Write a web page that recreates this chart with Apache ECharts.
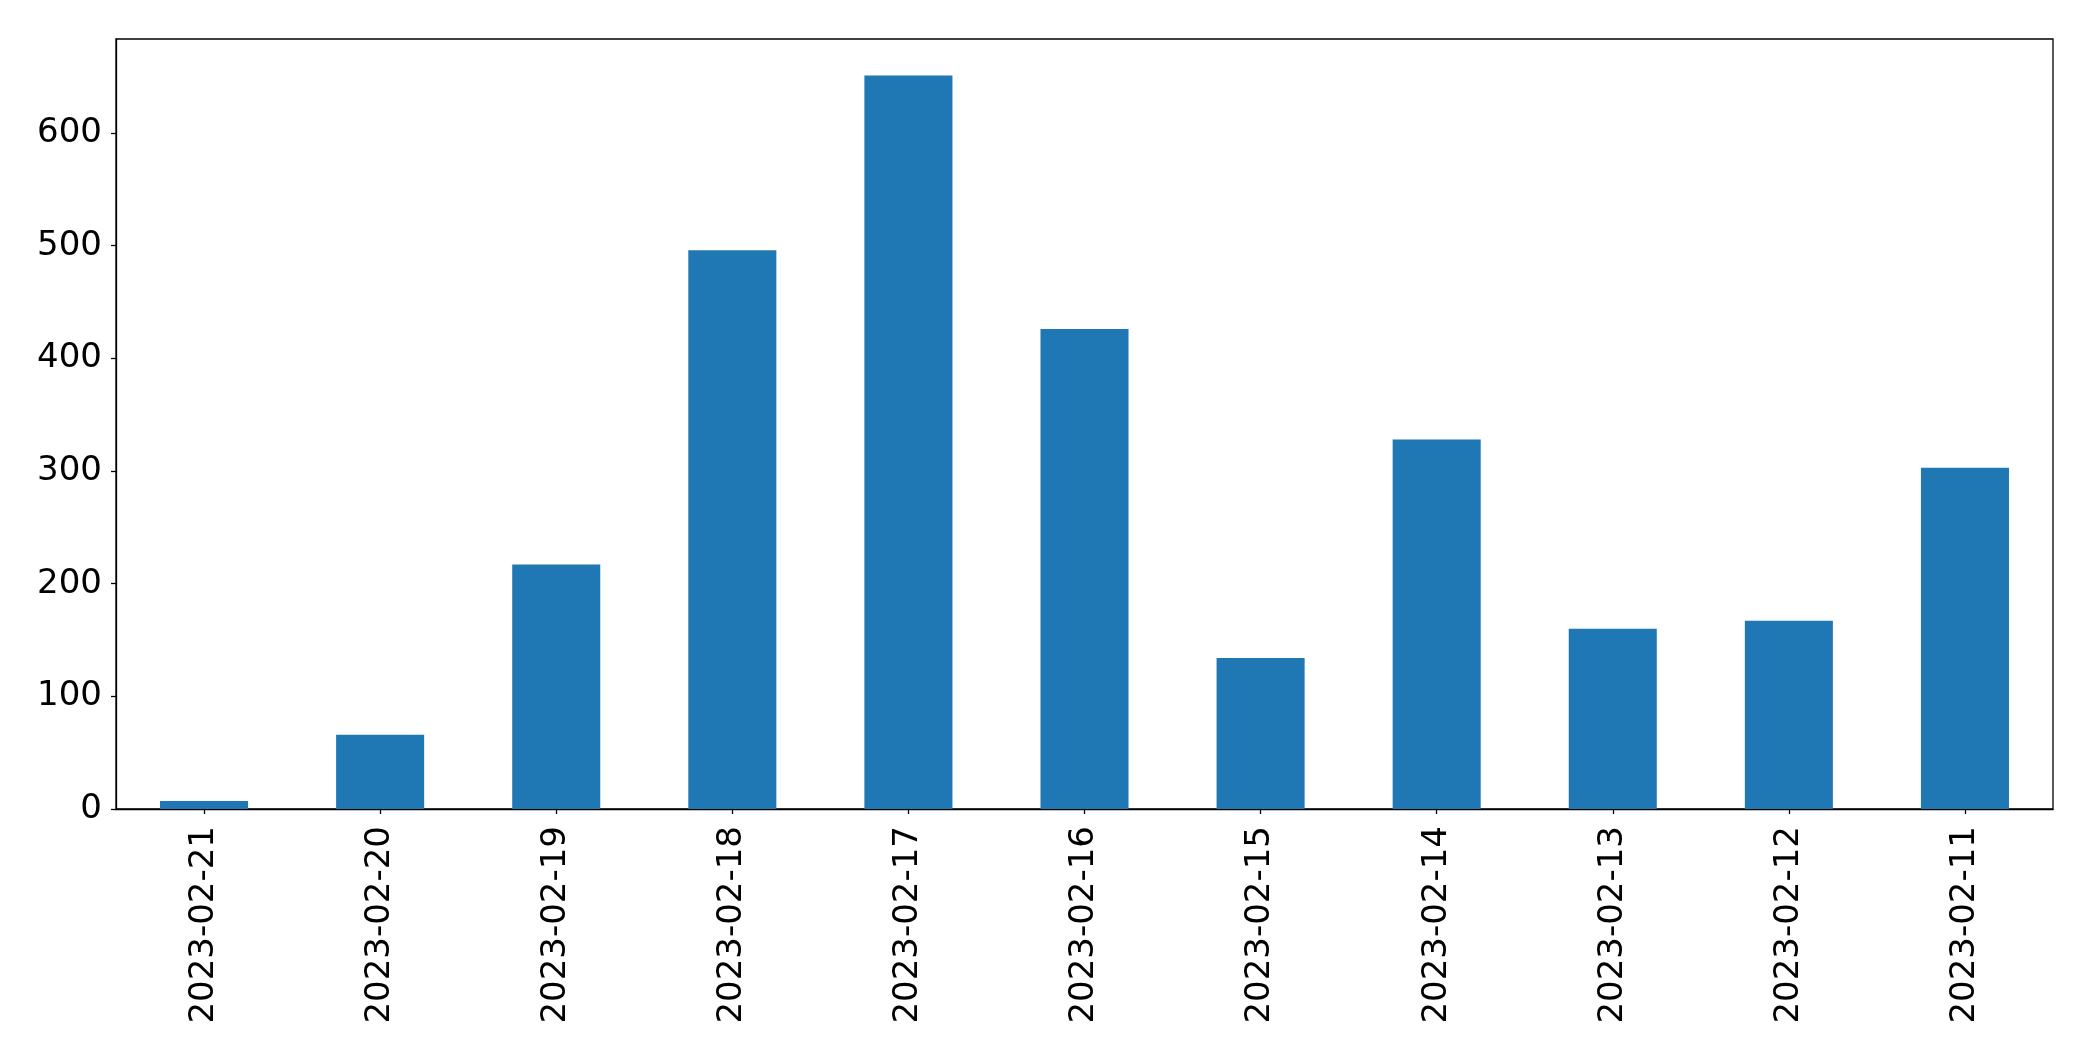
<!DOCTYPE html>
<html>
<head>
<meta charset="utf-8">
<script src="https://cdn.jsdelivr.net/npm/echarts@6/dist/echarts.min.js"></script>
<style>
html,body{margin:0;padding:0;background:#fff;}
#c{width:2093px;height:1061px;}
</style>
</head>
<body>
<div id="c"></div>
<script>
const categories = ["2023-02-21","2023-02-20","2023-02-19","2023-02-18","2023-02-17","2023-02-16","2023-02-15","2023-02-14","2023-02-13","2023-02-12","2023-02-11"];
const values = [7, 66, 217, 496, 651, 426, 134, 328, 160, 167, 303];
const yTicks = [0, 100, 200, 300, 400, 500, 600];
const yMax = 683.5;

const chart = echarts.init(document.getElementById('c'));
const font = "DejaVu Sans";
chart.setOption({
  animation: false,
  backgroundColor: '#ffffff',
  grid: {left: 116, right: 40, top: 39, bottom: 252, show: true, borderColor: '#000', borderWidth: 1.3, backgroundColor: 'transparent'},
  xAxis: {
    type: 'category',
    data: categories,
    boundaryGap: true,
    axisLine: {show: true, lineStyle: {color: '#000', width: 1.3}},
    axisTick: {show: true, alignWithLabel: true, length: 5, lineStyle: {color: '#000', width: 1.3}},
    axisLabel: {rotate: 90, margin: 17, fontSize: 34, fontFamily: font, color: '#000', interval: 0},
    splitLine: {show: false}
  },
  yAxis: {
    type: 'value',
    min: 0,
    max: yMax,
    interval: 100,
    axisLine: {show: true, lineStyle: {color: '#000', width: 1.3}},
    axisTick: {show: true, length: 5, lineStyle: {color: '#000', width: 1.3}, customValues: yTicks},
    axisLabel: {margin: 14, fontSize: 34, fontFamily: font, color: '#000', customValues: yTicks},
    splitLine: {show: false}
  },
  series: [{
    type: 'bar',
    data: values,
    barCategoryGap: '50%',
    itemStyle: {color: '#1f77b4'}
  }]
});
</script>
</body>
</html>
